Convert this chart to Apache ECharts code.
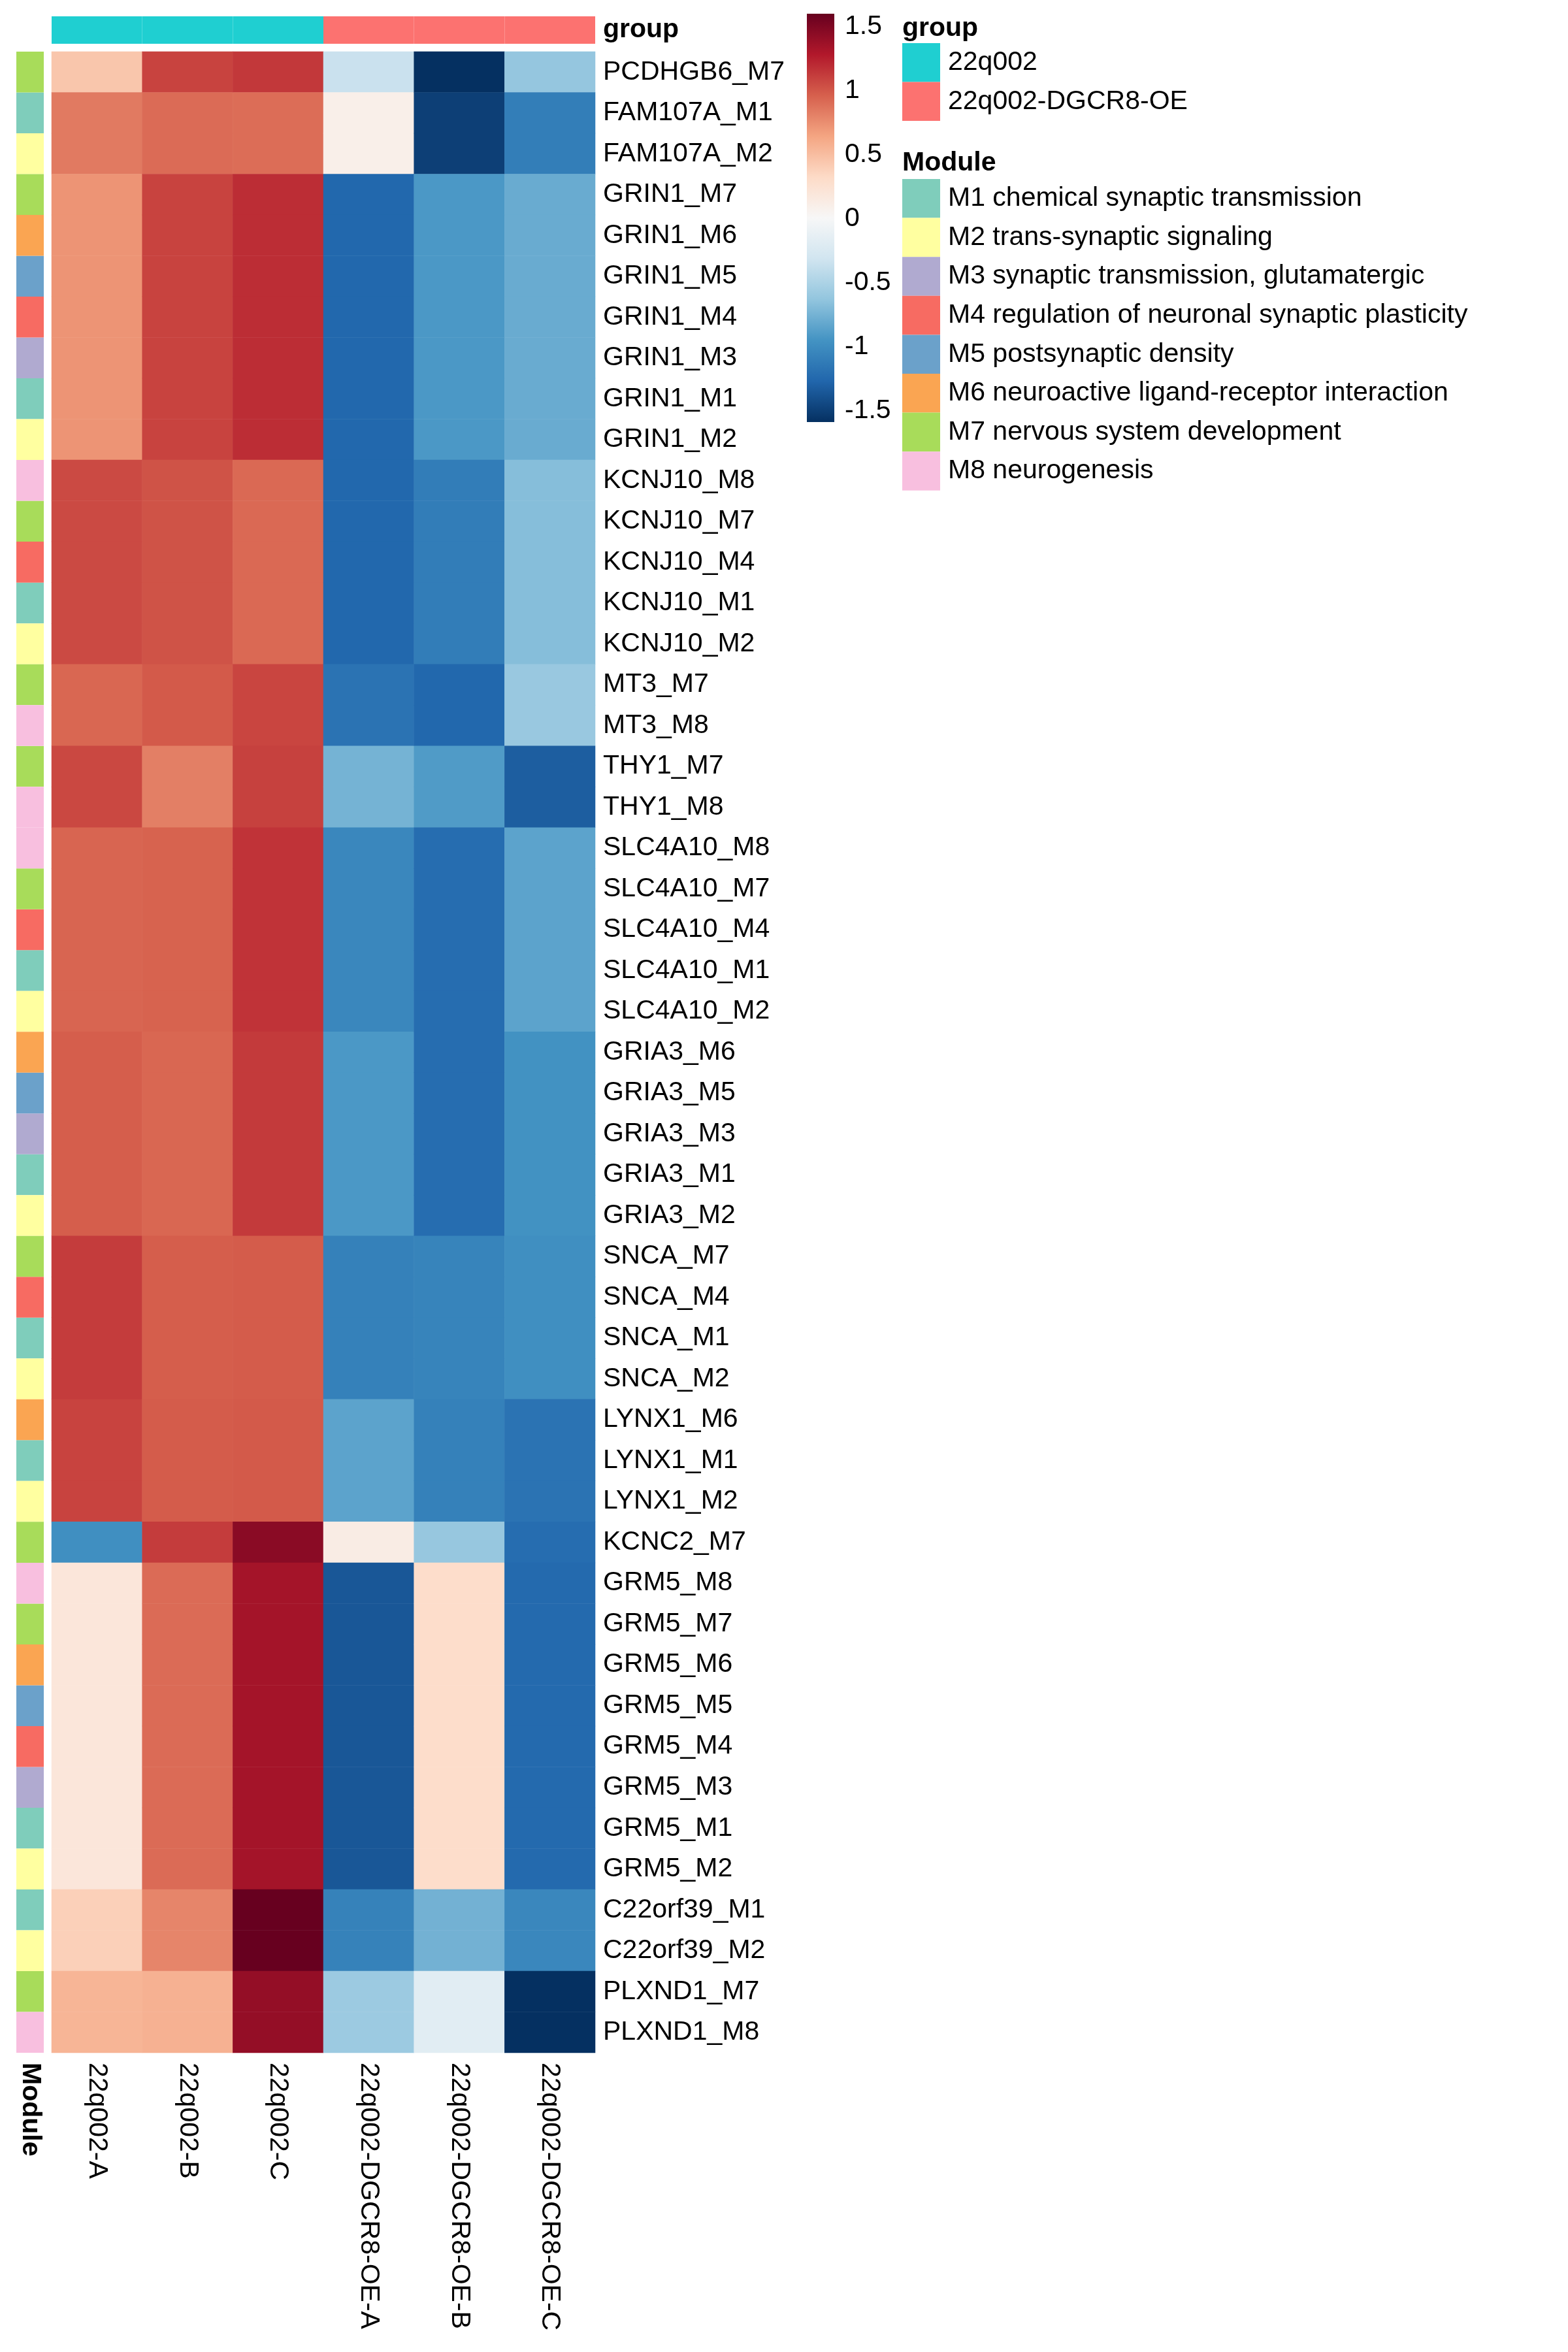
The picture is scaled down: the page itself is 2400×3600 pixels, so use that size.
<!DOCTYPE html>
<html><head><meta charset="utf-8">
<script src="https://cdn.jsdelivr.net/npm/echarts@6/dist/echarts.min.js"></script>
<style>html,body{margin:0;padding:0;background:#fff}#chart{width:2400px;height:3600px}</style>
</head><body><div id="chart"></div>
<script>
const FONT = "'Liberation Sans', Arial, Helvetica, sans-serif";

const samples = ['22q002-A','22q002-B','22q002-C','22q002-DGCR8-OE-A','22q002-DGCR8-OE-B','22q002-DGCR8-OE-C'];
const sampleGroups = [0,0,0,1,1,1];
const groupNames = ['22q002','22q002-DGCR8-OE'];
const groupColors = ['#1FCFD1','#FC7270'];

const rowLabels = ['PCDHGB6_M7','FAM107A_M1','FAM107A_M2',
  'GRIN1_M7','GRIN1_M6','GRIN1_M5','GRIN1_M4','GRIN1_M3','GRIN1_M1','GRIN1_M2',
  'KCNJ10_M8','KCNJ10_M7','KCNJ10_M4','KCNJ10_M1','KCNJ10_M2',
  'MT3_M7','MT3_M8','THY1_M7','THY1_M8',
  'SLC4A10_M8','SLC4A10_M7','SLC4A10_M4','SLC4A10_M1','SLC4A10_M2',
  'GRIA3_M6','GRIA3_M5','GRIA3_M3','GRIA3_M1','GRIA3_M2',
  'SNCA_M7','SNCA_M4','SNCA_M1','SNCA_M2',
  'LYNX1_M6','LYNX1_M1','LYNX1_M2','KCNC2_M7',
  'GRM5_M8','GRM5_M7','GRM5_M6','GRM5_M5','GRM5_M4','GRM5_M3','GRM5_M1','GRM5_M2',
  'C22orf39_M1','C22orf39_M2','PLXND1_M7','PLXND1_M8'];
const rowModules = [7,1,2, 7,6,5,4,3,1,2, 8,7,4,1,2, 7,8,7,8, 8,7,4,1,2, 6,5,3,1,2, 7,4,1,2, 6,1,2,7, 8,7,6,5,4,3,1,2, 1,2,7,8];

const moduleNames = ['M1 chemical synaptic transmission','M2 trans-synaptic signaling','M3 synaptic transmission, glutamatergic',
  'M4 regulation of neuronal synaptic plasticity','M5 postsynaptic density','M6 neuroactive ligand-receptor interaction',
  'M7 nervous system development','M8 neurogenesis'];
const moduleColors = ['#7FCDBB','#FFFFA0','#B0AAD0','#F76B62','#6BA1CA','#FAA552','#A8DC5A','#F8BFDF'];

// values per sample column (rows in the order of rowLabels)
const val_22q002_A = [0.45,0.84,0.84, 0.72,0.72,0.72,0.72,0.72,0.72,0.72, 1.06,1.06,1.06,1.06,1.06, 0.93,0.93,1.07,1.07,
  0.94,0.94,0.94,0.94,0.94, 0.97,0.97,0.97,0.97,0.97, 1.12,1.12,1.12,1.12, 1.09,1.09,1.09,-0.98,
  0.20,0.20,0.20,0.20,0.20,0.20,0.20,0.20, 0.39,0.39,0.55,0.55];
const val_22q002_B = [1.09,0.91,0.91, 1.09,1.09,1.09,1.09,1.09,1.09,1.09, 1.02,1.02,1.02,1.02,1.02, 0.99,0.99,0.82,0.82,
  0.95,0.95,0.95,0.95,0.95, 0.93,0.93,0.93,0.93,0.93, 0.97,0.97,0.97,0.97, 0.98,0.98,0.98,1.12,
  0.91,0.91,0.91,0.91,0.91,0.91,0.91,0.91, 0.79,0.79,0.57,0.57];
const val_22q002_C = [1.14,0.90,0.90, 1.19,1.19,1.19,1.19,1.19,1.19,1.19, 0.92,0.92,0.92,0.92,0.92, 1.08,1.08,1.10,1.10,
  1.16,1.16,1.16,1.16,1.16, 1.13,1.13,1.13,1.13,1.13, 0.98,0.98,0.98,0.98, 0.99,0.99,0.99,1.45,
  1.34,1.34,1.34,1.34,1.34,1.34,1.34,1.34, 1.60,1.60,1.41,1.41];
const val_OE_A = [-0.35,0.10,0.10, -1.26,-1.26,-1.26,-1.26,-1.26,-1.26,-1.26, -1.26,-1.26,-1.26,-1.26,-1.26, -1.18,-1.18,-0.75,-0.75,
  -1.04,-1.04,-1.04,-1.04,-1.04, -0.92,-0.92,-0.92,-0.92,-0.92, -1.08,-1.08,-1.08,-1.08, -0.85,-0.85,-0.85,0.13,
  -1.36,-1.36,-1.36,-1.36,-1.36,-1.36,-1.36,-1.36, -1.07,-1.07,-0.58,-0.58];
const val_OE_B = [-1.59,-1.50,-1.50, -0.92,-0.92,-0.92,-0.92,-0.92,-0.92,-0.92, -1.11,-1.11,-1.11,-1.11,-1.11, -1.26,-1.26,-0.90,-0.90,
  -1.22,-1.22,-1.22,-1.22,-1.22, -1.22,-1.22,-1.22,-1.22,-1.22, -1.06,-1.06,-1.06,-1.06, -1.08,-1.08,-1.08,-0.61,
  0.30,0.30,0.30,0.30,0.30,0.30,0.30,0.30, -0.76,-0.76,-0.18,-0.18];
const val_OE_C = [-0.62,-1.10,-1.10, -0.80,-0.80,-0.80,-0.80,-0.80,-0.80,-0.80, -0.68,-0.68,-0.68,-0.68,-0.68, -0.60,-0.60,-1.32,-1.32,
  -0.85,-0.85,-0.85,-0.85,-0.85, -0.96,-0.96,-0.96,-0.96,-0.96, -0.98,-0.98,-0.98,-0.98, -1.18,-1.18,-1.18,-1.22,
  -1.24,-1.24,-1.24,-1.24,-1.24,-1.24,-1.24,-1.24, -1.04,-1.04,-1.59,-1.59];
const sampleValues = [val_22q002_A, val_22q002_B, val_22q002_C, val_OE_A, val_OE_B, val_OE_C];

const colorbarMin = -1.59, colorbarMax = 1.60;
const colorbarTicks = [-1.5,-1,-0.5,0,0.5,1,1.5];
const rdbu = ['#053061','#2166AC','#4393C3','#92C5DE','#D1E5F0','#F7F7F7','#FDDBC7','#F4A582','#D6604D','#B2182B','#67001F'];

// ---- build
const heatData = [];
sampleValues.forEach((col, j) => col.forEach((v, i) => heatData.push([j, i, v])));

function cellRect(params, api) {
  const c = api.coord([api.value(0), api.value(1)]);
  const s = api.size([1, 1]);
  return { type: 'rect', shape: { x: c[0] - s[0] / 2, y: c[1] - s[1] / 2, width: s[0], height: s[1] },
           style: { fill: api.visual('color') } };
}

const series = [{
  type: 'heatmap', xAxisIndex: 0, yAxisIndex: 0, data: heatData,
  itemStyle: { borderWidth: 0 }, emphasis: { disabled: true }, progressive: 0
}];
moduleNames.forEach((name, m) => {
  series.push({
    type: 'custom', name: name, xAxisIndex: 1, yAxisIndex: 1, renderItem: cellRect,
    itemStyle: { color: moduleColors[m] },
    data: rowLabels.map((r, i) => rowModules[i] === m + 1 ? [0, i] : null).filter(d => d)
  });
});
groupNames.forEach((name, g) => {
  series.push({
    type: 'custom', name: name, xAxisIndex: 2, yAxisIndex: 2, renderItem: cellRect,
    itemStyle: { color: groupColors[g] },
    data: samples.map((s, j) => sampleGroups[j] === g ? [j, 0] : null).filter(d => d)
  });
});
const cbStops = rdbu.slice().reverse().map((c, k) => ({ offset: k / (rdbu.length - 1), color: c }));
series.push({
  type: 'custom', xAxisIndex: 3, yAxisIndex: 3,
  encode: { x: [0, 2], y: [1, 3] },
  data: [[0, colorbarMin, 1, colorbarMax]],
  renderItem: function (params, api) {
    const p0 = api.coord([api.value(0), api.value(3)]);
    const p1 = api.coord([api.value(2), api.value(1)]);
    return { type: 'rect', shape: { x: p0[0], y: p0[1], width: p1[0] - p0[0], height: p1[1] - p0[1] },
      style: { fill: { type: 'linear', x: 0, y: 0, x2: 0, y2: 1, colorStops: cbStops } } };
  }
});

const txt = { fontFamily: FONT, fontSize: 41, color: '#000' };
const txtH = Object.assign({}, txt, { padding: [6, 0, 0, 0] });
const noAxisDeco = { axisLine: { show: false }, axisTick: { show: false }, splitLine: { show: false } };

const option = {
  backgroundColor: '#ffffff',
  animation: false,
  textStyle: { fontFamily: FONT },
  title: [
    { text: 'group', left: 1381, top: 23, padding: 0, textStyle: Object.assign({}, txt, { fontWeight: 'bold', lineHeight: 41 }) },
    { text: 'Module', left: 1381, top: 229, padding: 0, textStyle: Object.assign({}, txt, { fontWeight: 'bold', lineHeight: 41 }) }
  ],
  legend: [
    { data: groupNames, left: 1381, top: 66, orient: 'vertical', icon: 'rect', itemWidth: 58, itemHeight: 59.5, itemGap: 0,
      padding: 0, selectedMode: false, textStyle: Object.assign({}, txt, { padding: [6, 0, 0, 7] }) },
    { data: moduleNames, left: 1381, top: 274, orient: 'vertical', icon: 'rect', itemWidth: 58, itemHeight: 59.6, itemGap: 0,
      padding: 0, selectedMode: false, textStyle: Object.assign({}, txt, { padding: [6, 0, 0, 7] }) }
  ],
  visualMap: { type: 'continuous', show: false, seriesIndex: 0, min: colorbarMin, max: colorbarMax, inRange: { color: rdbu } },
  grid: [
    { left: 79, top: 79, width: 832, height: 3063 },
    { left: 25, top: 79, width: 42, height: 3063 },
    { left: 79, top: 25, width: 832, height: 42 },
    { left: 1235, top: 21, width: 42, height: 625 }
  ],
  xAxis: [
    Object.assign({ gridIndex: 0, type: 'category', data: samples, position: 'bottom',
      axisLabel: Object.assign({ rotate: -90, margin: 15, interval: 0 }, txt) }, noAxisDeco),
    Object.assign({ gridIndex: 1, type: 'category', data: ['Module'], position: 'bottom',
      axisLabel: Object.assign({ rotate: -90, margin: 15, interval: 0 }, txt, { fontWeight: 'bold' }) }, noAxisDeco),
    { gridIndex: 2, type: 'category', data: samples, show: false },
    { gridIndex: 3, type: 'value', min: 0, max: 1, show: false }
  ],
  yAxis: [
    Object.assign({ gridIndex: 0, type: 'category', data: rowLabels, inverse: true, position: 'right',
      axisLabel: Object.assign({ margin: 12, interval: 0 }, txtH) }, noAxisDeco),
    { gridIndex: 1, type: 'category', data: rowLabels, inverse: true, show: false },
    Object.assign({ gridIndex: 2, type: 'category', data: ['group'], position: 'right',
      axisLabel: Object.assign({ margin: 12 }, txtH, { fontWeight: 'bold' }) }, noAxisDeco),
    Object.assign({ gridIndex: 3, type: 'value', min: colorbarMin, max: colorbarMax, position: 'right',
      axisLabel: Object.assign({ margin: 16, customValues: colorbarTicks, showMinLabel: true, showMaxLabel: true,
        formatter: v => String(v) }, txtH) }, noAxisDeco)
  ],
  series: series
};

const chart = echarts.init(document.getElementById('chart'), null, { renderer: 'canvas', width: 2400, height: 3600 });
chart.setOption(option);
</script>
</body></html>
